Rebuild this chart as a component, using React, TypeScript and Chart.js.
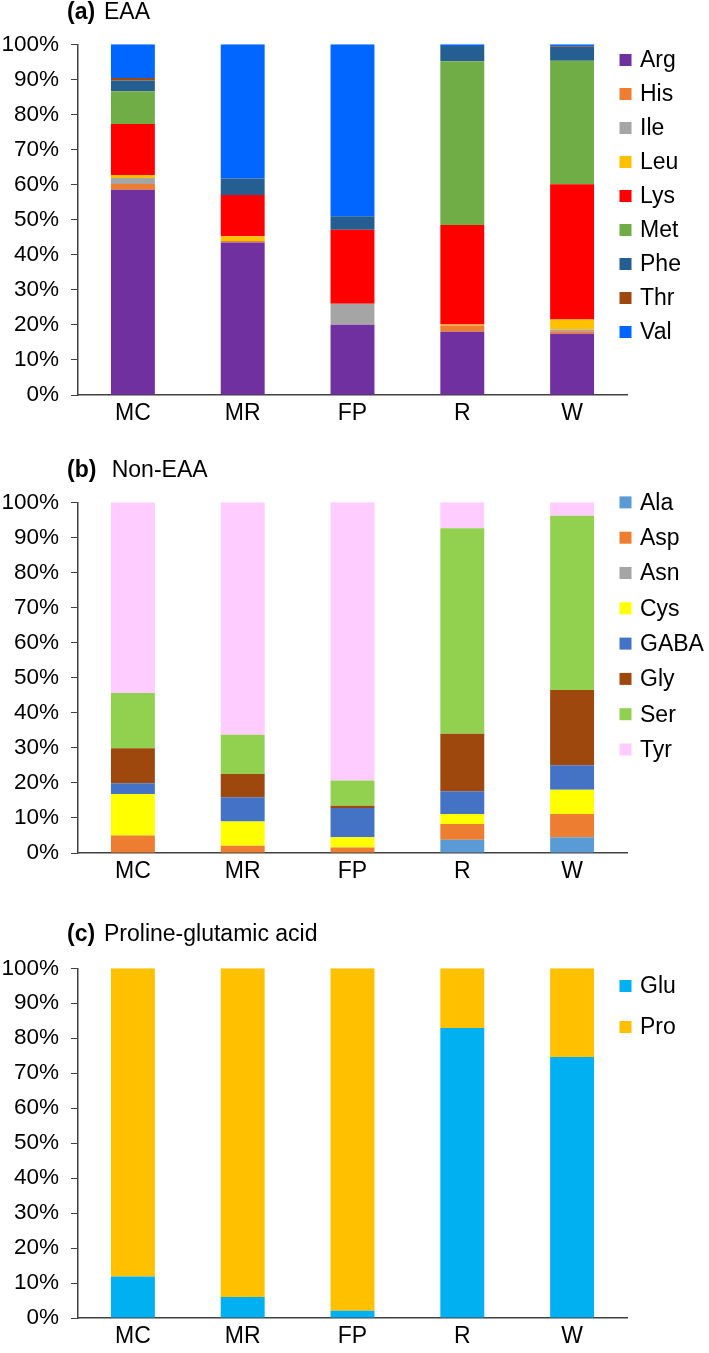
import React, { useEffect, useRef } from "react";
import { Chart, registerables } from "chart.js";

Chart.register(...registerables);

const categories = ["MC", "MR", "FP", "R", "W"];

// (a) EAA
const eaaNames = ["Arg", "His", "Ile", "Leu", "Lys", "Met", "Phe", "Thr", "Val"];
const eaaColors = ["#7030A0", "#ED7D31", "#A5A5A5", "#FFC000", "#FF0000", "#70AD47", "#255E91", "#9E480E", "#0066FF"];
const Arg = [58.5, 43.5, 20.0, 18.0, 17.5];
const His = [1.7, 0.4, 0, 1.8, 0.7];
const Ile = [1.7, 0, 6.0, 0, 0.5];
const Leu = [0.8, 1.4, 0, 0.3, 2.8];
const Lys = [14.6, 11.7, 21.1, 28.4, 38.6];
const Met = [9.3, 0, 0, 46.7, 35.2];
const Phe = [3.1, 4.7, 3.9, 4.3, 4.0];
const Thr = [0.7, 0, 0, 0, 0.2];
const Val = [9.6, 38.3, 49.0, 0.5, 0.5];
const eaaValues = [Arg, His, Ile, Leu, Lys, Met, Phe, Thr, Val];

// (b) Non-EAA
const neaaNames = ["Ala", "Asp", "Asn", "Cys", "GABA", "Gly", "Ser", "Tyr"];
const neaaColors = ["#5B9BD5", "#ED7D31", "#A5A5A5", "#FFFF00", "#4472C4", "#9E480E", "#92D050", "#FFCCFF"];
const Ala = [0, 0, 0, 3.8, 4.5];
const Asp = [5.0, 2.1, 1.6, 4.5, 6.6];
const Asn = [0, 0, 0, 0, 0];
const Cys = [11.8, 6.9, 2.9, 2.8, 6.9];
const GABA = [3.1, 6.9, 8.3, 6.5, 7.0];
const Gly = [10.0, 6.6, 0.7, 16.4, 21.5];
const Ser = [15.7, 11.2, 7.2, 58.6, 49.7];
const Tyr = [54.4, 66.3, 79.3, 7.4, 3.8];
const neaaValues = [Ala, Asp, Asn, Cys, GABA, Gly, Ser, Tyr];

// (c) Proline-glutamic acid
const pgNames = ["Glu", "Pro"];
const pgColors = ["#00B0F0", "#FFC000"];
const Glu = [11.9, 6.0, 2.1, 82.9, 74.6];
const Pro = [88.1, 94.0, 97.9, 17.1, 25.4];
const pgValues = [Glu, Pro];

const yTicks = [0, 10, 20, 30, 40, 50, 60, 70, 80, 90, 100];

const FONT = "'Liberation Sans', Arial, sans-serif";
const AXIS = "#404040";

type PanelProps = {
  top: number;
  height: number;
  plotTop: number;
  titleY: number;
  titleBold: string;
  titleRest: string;
  restX: number;
  legendY0: number;
  legendStep: number;
  names: string[];
  colors: string[];
  values: number[][];
};

function Panel(p: PanelProps) {
  const ref = useRef<HTMLCanvasElement | null>(null);
  useEffect(() => {
    if (!ref.current) return;
    const overlay = {
      id: "overlay",
      afterDraw(chart: any) {
        const ctx = chart.ctx;
        ctx.save();
        ctx.fillStyle = "#000";
        ctx.textBaseline = "middle";
        ctx.textAlign = "left";
        ctx.font = `bold 23px ${FONT}`;
        ctx.fillText(p.titleBold, 67, p.titleY);
        ctx.font = `23px ${FONT}`;
        ctx.fillText(p.titleRest, p.restX, p.titleY);
        chart.data.datasets.forEach((ds: any, i: number) => {
          const cy = p.legendY0 + i * p.legendStep;
          ctx.fillStyle = ds.backgroundColor;
          ctx.fillRect(619.5, cy - 6, 12, 12);
          ctx.fillStyle = "#000";
          ctx.fillText(ds.label, 640, cy + 1);
        });
        ctx.restore();
      },
    };
    const chart = new Chart(ref.current, {
      type: "bar",
      data: {
        labels: categories,
        datasets: p.names.map((n, i) => ({
          label: n,
          data: p.values[i],
          backgroundColor: p.colors[i],
          borderWidth: 0,
          barPercentage: 0.4,
          categoryPercentage: 1.0,
        })),
      },
      options: {
        responsive: false,
        animation: false,
        events: [],
        devicePixelRatio: 1,
        layout: { padding: { top: p.plotTop, right: 82, bottom: 0, left: 0 } },
        plugins: { legend: { display: false }, tooltip: { enabled: false }, title: { display: false } },
        scales: {
          x: {
            stacked: true,
            grid: { display: false, drawTicks: false },
            border: { display: true, color: AXIS, width: 1.5 },
            ticks: { color: "#000", font: { family: FONT, size: 23 }, padding: 5, maxRotation: 0 },
            afterFit: (s: any) => {
              s.height = 35;
            },
          },
          y: {
            stacked: true,
            min: 0,
            max: 100,
            afterBuildTicks: (s: any) => {
              s.ticks = yTicks.map((v) => ({ value: v }));
            },
            grid: { display: true, drawOnChartArea: false, drawTicks: true, tickLength: 7, color: AXIS, lineWidth: 1 },
            border: { display: true, color: AXIS, width: 1.5 },
            ticks: {
              color: "#000",
              font: { family: FONT, size: 22.5 },
              padding: 12,
              callback: (v: any) => v + "%",
            },
            afterFit: (s: any) => {
              s.width = 78;
            },
          },
        },
      },
      plugins: [overlay],
    });
    return () => chart.destroy();
  }, []);
  return (
    <canvas
      ref={ref}
      width={709}
      height={p.height}
      style={{ position: "absolute", left: 0, top: p.top, width: 709, height: p.height }}
    />
  );
}

export default function App() {
  return (
    <div style={{ position: "absolute", left: 0, top: 0, width: 709, height: 1353, background: "#fff" }}>
      <Panel
        top={0}
        height={430}
        plotTop={44.3}
        titleY={13}
        titleBold="(a)"
        titleRest="EAA"
        restX={104}
        legendY0={60}
        legendStep={34}
        names={eaaNames}
        colors={eaaColors}
        values={eaaValues}
      />
      <Panel
        top={440}
        height={448.3}
        plotTop={62.3}
        titleY={31}
        titleBold="(b)"
        titleRest="Non-EAA"
        restX={111.7}
        legendY0={62.4}
        legendStep={35.3}
        names={neaaNames}
        colors={neaaColors}
        values={neaaValues}
      />
      <Panel
        top={900}
        height={453.3}
        plotTop={68.3}
        titleY={35}
        titleBold="(c)"
        titleRest="Proline-glutamic acid"
        restX={104}
        legendY0={86}
        legendStep={41}
        names={pgNames}
        colors={pgColors}
        values={pgValues}
      />
    </div>
  );
}
